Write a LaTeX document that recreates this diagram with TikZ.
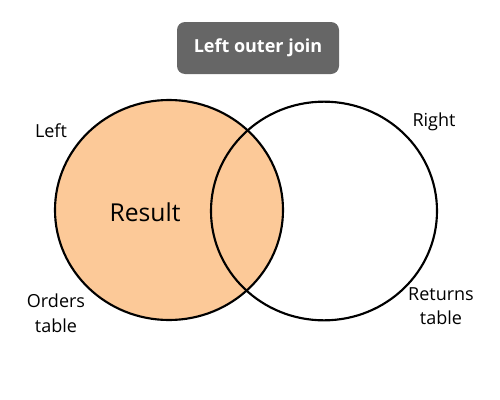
\documentclass[tikz,border=0pt]{standalone}
\usepackage{fontspec}
\setmainfont{Open Sans}
\definecolor{resultfill}{RGB}{252,201,152}
\definecolor{titlegray}{RGB}{102,102,102}
\tikzset{every picture/.style={line width=0.75pt}}

\begin{document}
\begin{tikzpicture}[x=0.75pt,y=0.75pt,yscale=-1,xscale=1,
  setline/.style={line width=1.6pt},
  labeltext/.style={font=\fontsize{13.5}{18.5}\selectfont,inner sep=0pt,align=center}]
\path [use as bounding box] (0,0) rectangle (500,400);
%Shape: Ellipse [left set, filled]
\draw [setline,fill=resultfill] (169,210) ellipse [x radius=85.5pt, y radius=82.5pt];
%Shape: Ellipse [right set]
\draw [setline] (324,211) ellipse [x radius=84.75pt, y radius=82pt];

% Title box
\node (title) [fill=titlegray,rounded corners=6pt,minimum width=121.5pt,minimum height=39pt,inner sep=0pt,text=white,font=\fontsize{13.5}{16}\selectfont\bfseries] at (258,48) {Left outer join};
% Text Node
\node (result) [inner sep=0pt,font=\fontsize{18.5}{22}\selectfont] at (145,212) {Result};
% Text Node
\node (left) [labeltext] at (51,131) {Left};
% Text Node
\node (right) [labeltext] at (434,122) {Right};
% Text Node
\node (orders) [labeltext] at (56,313) {Orders\\table};
% Text Node
\node (returns) [labeltext] at (441,306) {Returns\\table};
\end{tikzpicture}
\end{document}
